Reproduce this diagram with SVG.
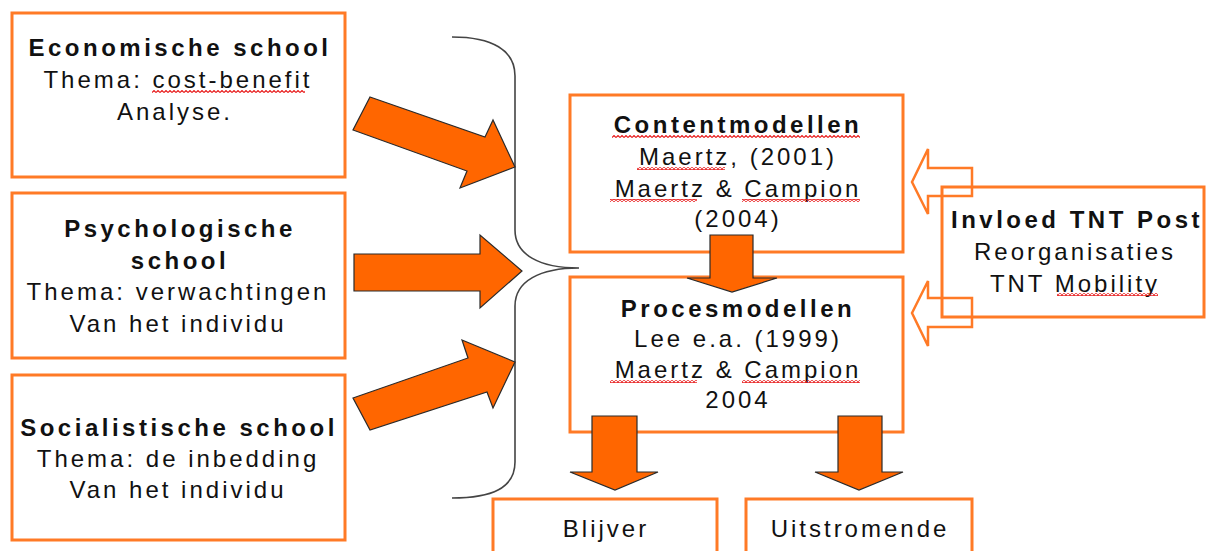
<svg xmlns="http://www.w3.org/2000/svg" width="1206" height="551" viewBox="0 0 1206 551">
  <defs>
    <style>
      .box { fill: #ffffff; stroke: #FF7A26; stroke-width: 3; }
      .t { font-family: "Liberation Sans", Arial, sans-serif; font-size: 24px; text-anchor: middle; fill: #111111; letter-spacing: 3px; }
      .b { font-weight: bold; letter-spacing: 3.5px; }
      .blk { fill: #FF6600; stroke: #2a2a2a; stroke-width: 1.2; stroke-linejoin: miter; }
      .hollow { fill: none; stroke: #FF7A26; stroke-width: 2.5; stroke-linejoin: miter; }
      .brace { fill: none; stroke: #444444; stroke-width: 1.6; }
      .sq { fill: url(#squiggle); }
    </style>
    <!-- red wavy underline used under flagged words -->
    <pattern id="squiggle" patternUnits="userSpaceOnUse" width="4" height="3">
      <path d="M0,2.5 L2,0.5 L4,2.5" fill="none" stroke="#E81818" stroke-width="1.1"/>
    </pattern>
  </defs>

  <rect width="1206" height="551" fill="#ffffff"/>

  <!-- schools on the left -->
  <g id="economische">
    <rect class="box" x="12" y="13" width="333" height="164"/>
    <text class="t b" x="180" y="56">Economische school</text>
    <text class="t" x="178" y="88">Thema: cost-benefit</text>
    <text class="t" x="175" y="120">Analyse.</text>
    <rect class="sq" x="152" y="90" width="153" height="3"/>
  </g>

  <g id="psychologische">
    <rect class="box" x="12" y="193" width="333" height="165"/>
    <text class="t b" x="180" y="237">Psychologische</text>
    <text class="t b" x="180" y="269">school</text>
    <text class="t" x="178" y="300">Thema: verwachtingen</text>
    <text class="t" x="178" y="332">Van het individu</text>
  </g>

  <g id="socialistische">
    <rect class="box" x="12" y="375" width="333" height="165"/>
    <text class="t b" x="179" y="436">Socialistische school</text>
    <text class="t" x="178" y="467">Thema: de inbedding</text>
    <text class="t" x="178" y="498">Van het individu</text>
  </g>

  <!-- model boxes -->
  <g id="contentmodellen">
    <rect class="box" x="570" y="95" width="333" height="157"/>
    <text class="t b" x="738" y="133">Contentmodellen</text>
    <text class="t" x="738" y="165">Maertz, (2001)</text>
    <text class="t" x="738" y="197">Maertz &amp; Campion</text>
    <text class="t" x="738" y="227">(2004)</text>
    <rect class="sq" x="612" y="135" width="248" height="3"/>
    <rect class="sq" x="637" y="167" width="88" height="3"/>
    <rect class="sq" x="610" y="199" width="87" height="3"/>
    <rect class="sq" x="742" y="199" width="118" height="3"/>
  </g>

  <g id="procesmodellen">
    <rect class="box" x="570" y="277" width="333" height="155"/>
    <text class="t b" x="738" y="317">Procesmodellen</text>
    <text class="t" x="738" y="347">Lee e.a. (1999)</text>
    <text class="t" x="738" y="378">Maertz &amp; Campion</text>
    <text class="t" x="738" y="408">2004</text>
    <rect class="sq" x="610" y="380" width="87" height="3"/>
    <rect class="sq" x="742" y="380" width="118" height="3"/>
  </g>

  <g id="invloed">
    <rect class="box" x="942" y="187" width="262" height="130"/>
    <text class="t b" x="1077" y="228">Invloed TNT Post</text>
    <text class="t" x="1075" y="260">Reorganisaties</text>
    <text class="t" x="1075" y="292">TNT Mobility</text>
    <rect class="sq" x="1057" y="293" width="101" height="3"/>
  </g>

  <!-- outcomes -->
  <g id="blijver">
    <rect class="box" x="493" y="499" width="224" height="80"/>
    <text class="t" x="606" y="537">Blijver</text>
  </g>

  <g id="uitstromende">
    <rect class="box" x="746" y="499" width="226" height="80"/>
    <text class="t" x="860" y="537">Uitstromende</text>
  </g>

  <!-- connectors -->
  <g id="connectors">
    <!-- curly brace gathering the three schools -->
    <path class="brace" d="M452,37 C492,37 515,50 515,76 L515,230 C515,255 540,268 579,268 C540,268 515,281 515,306 L515,462 C515,488 492,498 452,498"/>

    <!-- block arrows from the schools -->
    <polygon class="blk" points="370,97 485,137 493,120 515,167 460,188 467,171 353,130"/>
    <polygon class="blk" points="354,254 480,254 480,235 522,271 480,308 480,291 354,291"/>
    <polygon class="blk" points="353,398 468,358 462,340 515,362 493,408 487,392 370,430"/>

    <!-- content to process -->
    <polygon class="blk" points="710,235 753,235 753,278 777,278 732,292 687,278 710,278"/>

    <!-- process to outcomes -->
    <polygon class="blk" points="592,416 637,416 637,472 658,472 615,490 570,472 592,472"/>
    <polygon class="blk" points="838,416 882,416 882,472 903,472 859,490 815,472 838,472"/>

    <!-- outline arrows from TNT Post -->
    <polygon class="hollow" points="912,182 928,149 928,168 972,168 972,196 928,196 928,214"/>
    <polygon class="hollow" points="912,313 928,281 928,298 972,298 972,327 928,327 928,346"/>
  </g>
</svg>
